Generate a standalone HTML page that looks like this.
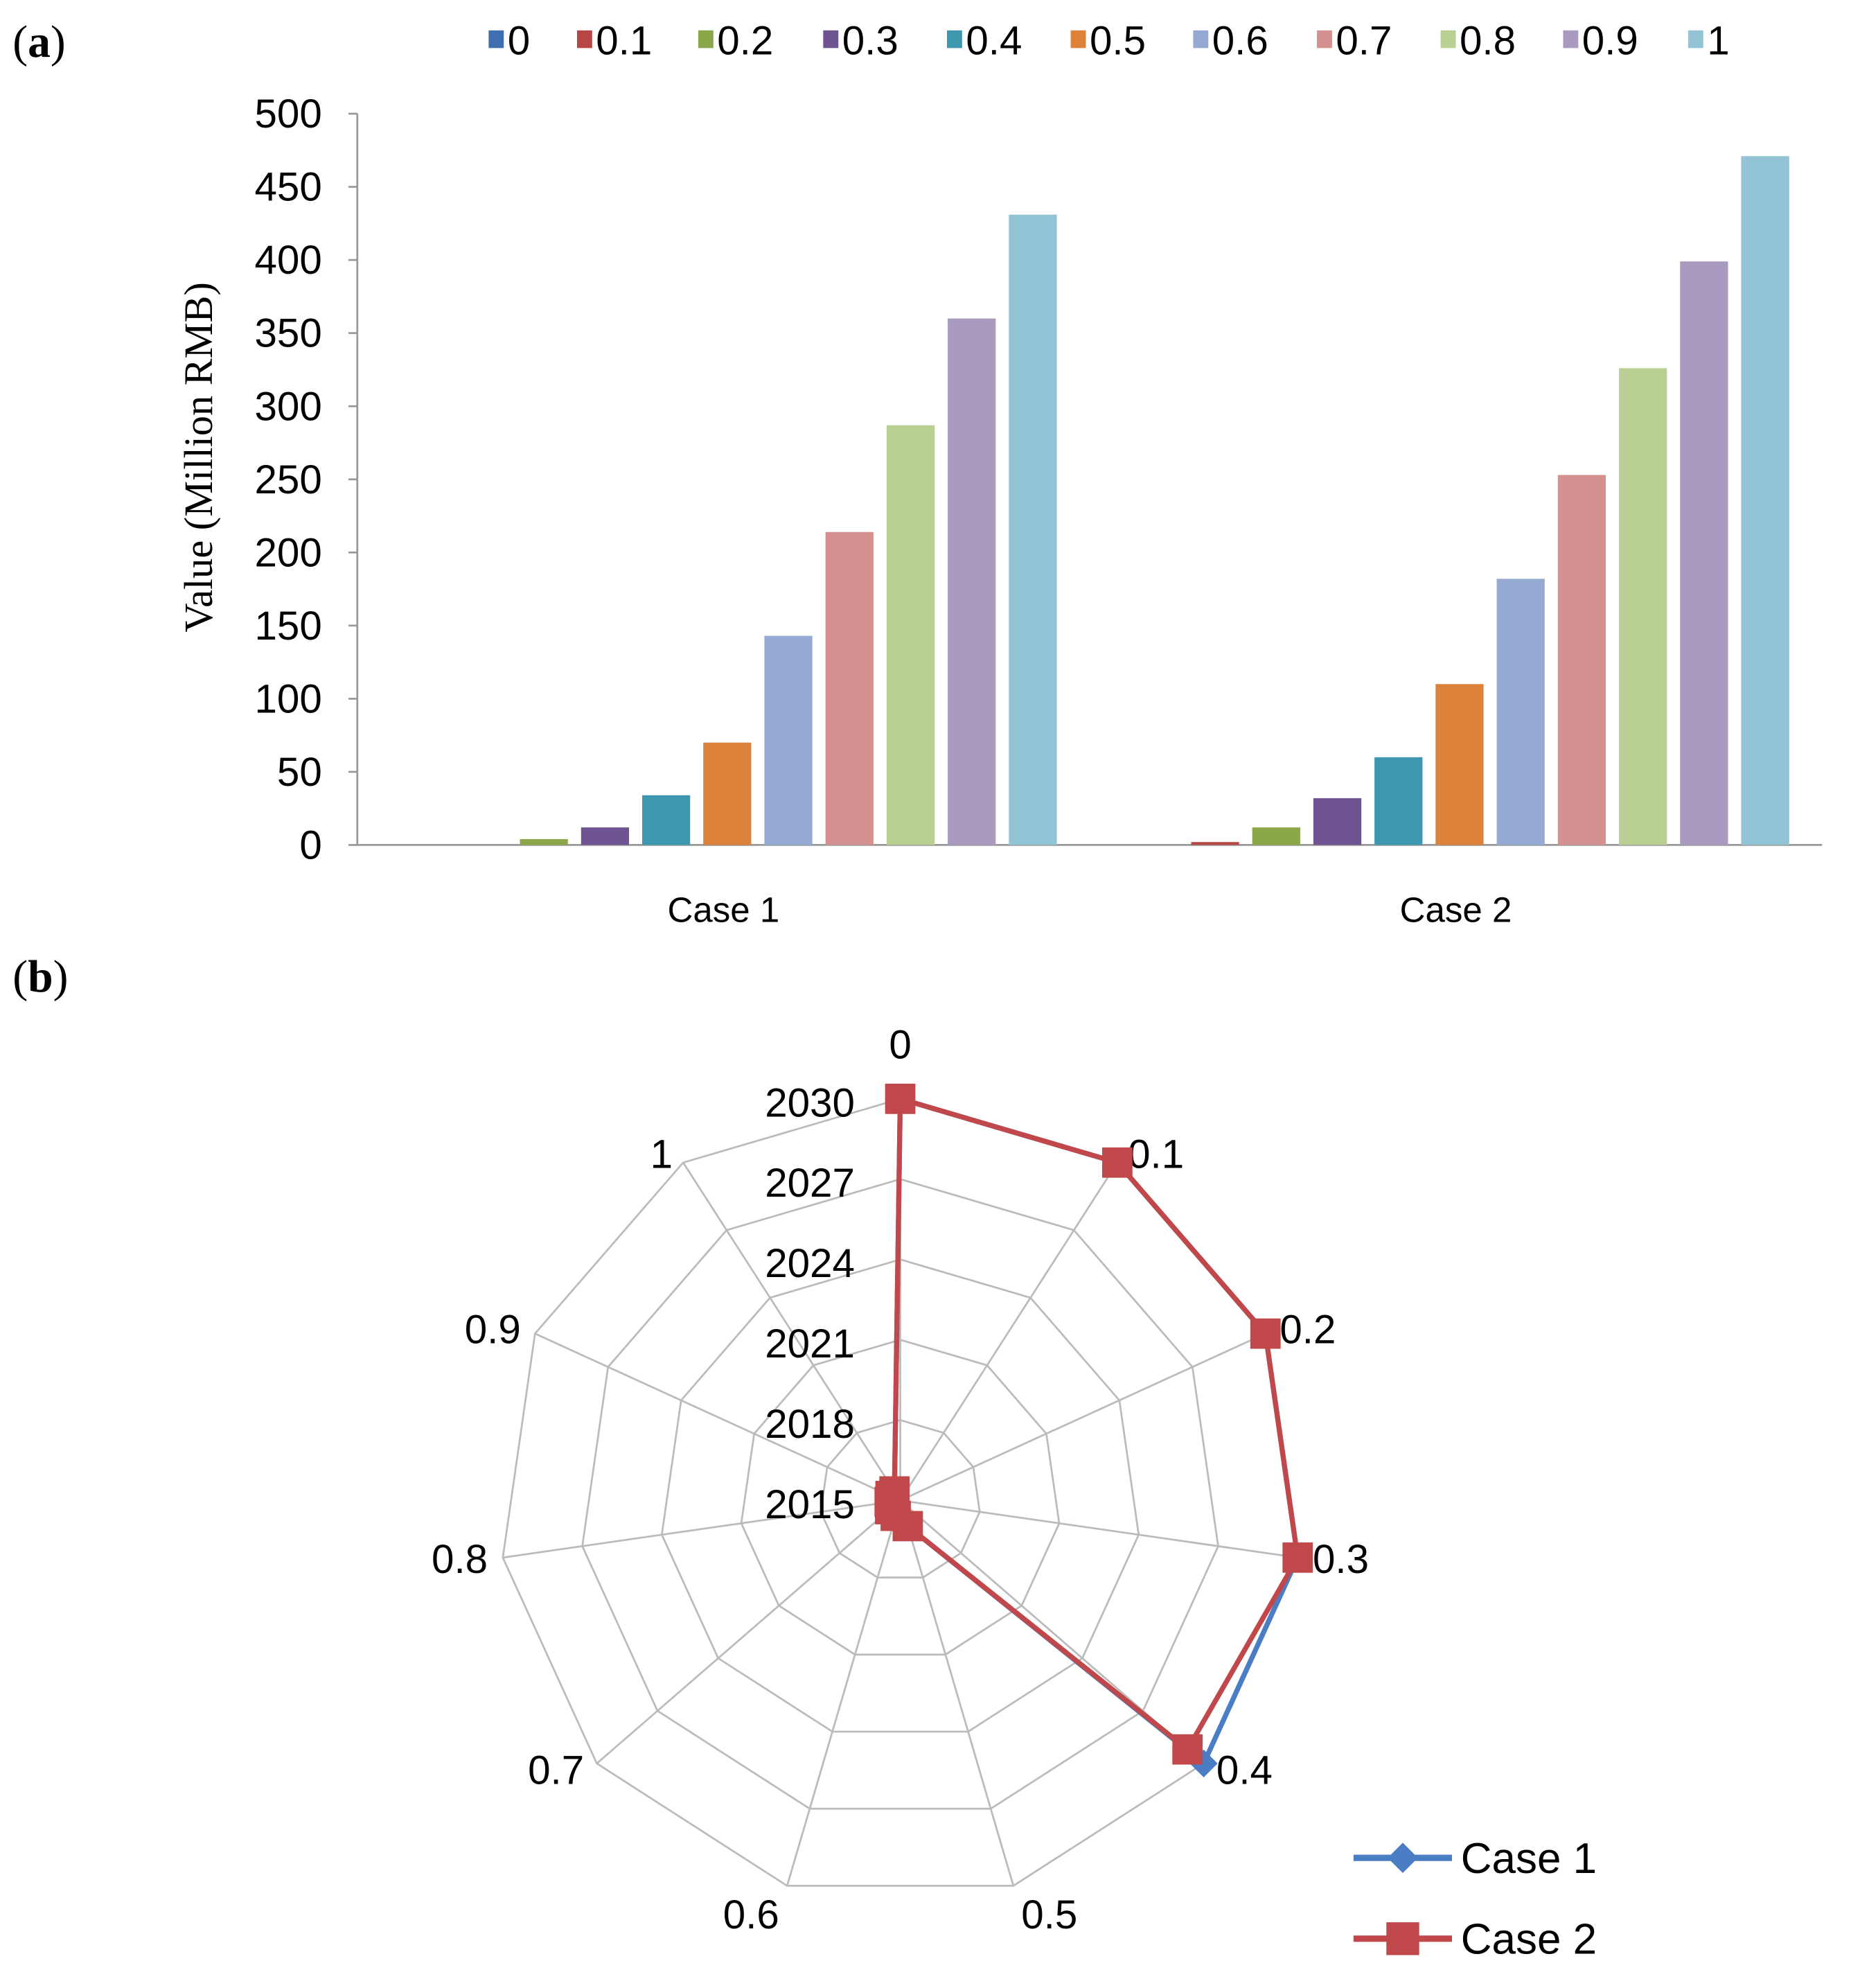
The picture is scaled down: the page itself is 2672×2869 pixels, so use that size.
<!DOCTYPE html>
<html><head><meta charset="utf-8"><style>
html,body{margin:0;padding:0;background:#fff}
svg{display:block}
text{font-family:"Liberation Sans Narrow","Liberation Sans",sans-serif;fill:#000}
.serif{font-family:"Liberation Serif",serif}
</style></head><body>
<svg id="svg" width="2672" height="2869" viewBox="0 0 1466 1574" xmlns="http://www.w3.org/2000/svg">
<text class="serif" x="10" y="45" font-size="36">(<tspan font-weight="bold">a</tspan>)</text>
<text class="serif" x="10" y="785" font-size="36">(<tspan font-weight="bold">b</tspan>)</text>
<g id="bar"></g>
<g id="radar"></g>
</svg>
<script>
const barSeries = ['0','0.1','0.2','0.3','0.4','0.5','0.6','0.7','0.8','0.9','1'];
const barCategories = ['Case 1','Case 2'];
const case1Values = [0,0,4,12,34,70,143,214,287,360,431];
const case2Values = [0,2,12,32,60,110,182,253,326,399,471];
const yTicks = [0,50,100,150,200,250,300,350,400,450,500];
const barColors = ['#3f6fae','#b84744','#8aa84a','#6e5490','#3d97ae','#dd823b','#94aad3','#d49190','#b9cf93','#a99ac0','#92c4d6'];

const radarAxes = ['0','0.1','0.2','0.3','0.4','0.5','0.6','0.7','0.8','0.9','1'];
const radarTicks = [2015,2018,2021,2024,2027,2030];
const radarCase1 = [2030,2030,2030,2030,2030,2016,2015.6,2015.5,2015.4,2015.4,2015.4];
const radarCase2 = [2030,2030,2030,2030,2029.2,2016,2015.6,2015.5,2015.4,2015.4,2015.4];

const NS='http://www.w3.org/2000/svg';
function mk(tag,attrs,parent){const e=document.createElementNS(NS,tag);for(const k in attrs)e.setAttribute(k,attrs[k]);parent.appendChild(e);return e;}

// Bar chart
const bar=document.getElementById('bar');
const x0=283,x1=1443,yB=669,yT=90;
const yScale=v=>yB-(v/500)*(yB-yT);
const catW=(x1-x0)/barCategories.length;
const step=48.4, bw=38;
let ax=mk('line',{x1:x0,y1:yT,x2:x0,y2:yB,stroke:'#999','stroke-width':1.5},bar);


let bx=mk('line',{x1:x0,y1:yB,x2:x1,y2:yB,stroke:'#999','stroke-width':1.5},bar);


yTicks.forEach(t=>{
  const y=yScale(t);
  const tk=mk('line',{x1:x0-7,y1:y,x2:x0,y2:y,stroke:'#999','stroke-width':1.5},bar);
  
  
  const tl=mk('text',{x:x0-28,y:y+11,'font-size':32,'text-anchor':'end'},bar);
  tl.textContent=t;
  
  
});
const yt=mk('text',{x:0,y:0,'font-size':32,'text-anchor':'middle',transform:'translate(168,362) rotate(-90)',class:'serif'},bar);
yt.textContent='Value (Million RMB)';


[case1Values,case2Values].forEach((vals,ci)=>{
  const cx=x0+catW*(ci+0.5);
  vals.forEach((v,i)=>{
    const c=cx+(i-5)*step+3;
    const r=mk('rect',{x:c-bw/2,y:yScale(v),width:bw,height:yB-yScale(v),fill:barColors[i]},bar);
    
    
  });
  const cl=mk('text',{x:cx,y:730,'font-size':28,'text-anchor':'middle'},bar);
  cl.textContent=barCategories[ci];
  
  
});
const legX=[387,457,553,652,750,848,945,1043,1141,1238,1337];
barSeries.forEach((s,i)=>{
  const sw=mk('rect',{x:legX[i],y:24,width:12,height:14,fill:barColors[i]},bar);
  
  
  const lt=mk('text',{x:legX[i]+15,y:43,'font-size':32},bar);
  lt.textContent=s;
  
  
});

// Radar
const rad=document.getElementById('radar');
const cx=713,cy=1188,R=318;
const rmin=radarTicks[0],rmax=radarTicks[radarTicks.length-1];
const rScale=v=>(v-rmin)/(rmax-rmin)*R;
const n=radarAxes.length;
const pt=(i,r)=>{const a=-Math.PI/2+2*Math.PI*i/n;return [cx+r*Math.cos(a),cy+r*Math.sin(a)];};
radarTicks.forEach((t,k)=>{
  if(k===0)return;
  const r=rScale(t);
  const pts=[];for(let i=0;i<n;i++)pts.push(pt(i,r).join(','));
  const pg=mk('polygon',{points:pts.join(' '),fill:'none',stroke:'#bbb','stroke-width':1.5},rad);
  
  
});
for(let i=0;i<n;i++){
  const [px,py]=pt(i,R);
  const sp=mk('line',{x1:cx,y1:cy,x2:px,y2:py,stroke:'#bbb','stroke-width':1.5},rad);
  
  
}
radarTicks.forEach(t=>{
  const tl=mk('text',{x:cx-36,y:cy-rScale(t)+14,'font-size':32,'text-anchor':'end'},rad);
  tl.textContent=t;
  
  
});
radarAxes.forEach((s,i)=>{
  const a=-Math.PI/2+2*Math.PI*i/n;
  const c=Math.cos(a), sn=Math.sin(a);
  let [px,py]=pt(i,R+8);
  let anchor='middle';
  if(c>0.1){anchor='start';px+=4;}
  else if(c<-0.1){anchor='end';px-=4;}
  let dy=11;
  if(i===0) dy=-24;
  if(sn>0.9) dy=26;
  const lt=mk('text',{x:px,y:py+dy,'font-size':32,'text-anchor':anchor},rad);
  lt.textContent=s;
  
  
});
function series(vals,color,marker,name){
  const pts=vals.map((v,i)=>pt(i,rScale(v)));
  const pl=mk('polygon',{points:pts.map(p=>p.join(',')).join(' '),fill:'none',stroke:color,'stroke-width':4,'stroke-linejoin':'round'},rad);
  
  
  pts.forEach(p=>{
    let m;
    if(marker==='sq') m=mk('rect',{x:p[0]-12,y:p[1]-12,width:24,height:24,fill:color},rad);
    else m=mk('polygon',{points:`${p[0]},${p[1]-11} ${p[0]+11},${p[1]} ${p[0]},${p[1]+11} ${p[0]-11},${p[1]}`,fill:color},rad);
    
    
  });
}
series(radarCase1,'#4a7dc4','dia','case-1');
series(radarCase2,'#c0484a','sq','case-2');
[['Case 1','#4a7dc4','dia',1471],['Case 2','#c0484a','sq',1535]].forEach(([l,c,m,y])=>{
  const ll=mk('line',{x1:1072,y1:y,x2:1150,y2:y,stroke:c,'stroke-width':5},rad);
  
  
  let mm;
  if(m==='sq') mm=mk('rect',{x:1098,y:y-13,width:26,height:26,fill:c},rad);
  else mm=mk('polygon',{points:`1111,${y-12} 1123,${y} 1111,${y+12} 1099,${y}`,fill:c},rad);
  
  
  const tt=mk('text',{x:1157,y:y+12,'font-size':34},rad);
  tt.textContent=l;
  
  
});
</script>
</body></html>
